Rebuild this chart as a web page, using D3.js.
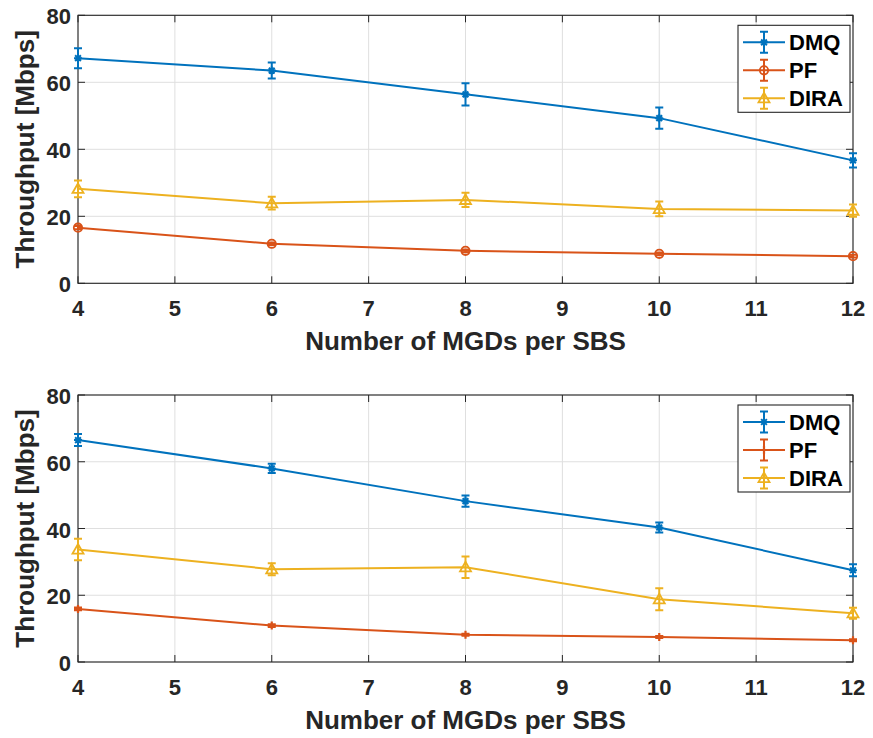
<!DOCTYPE html>
<html><head><meta charset="utf-8">
<script src="https://cdn.jsdelivr.net/npm/d3@7"></script>
<style>body{margin:0;background:#fff} svg{display:block}</style>
</head><body><svg id="chart" width="873" height="738"></svg>
<script>
const xValues = [4, 6, 8, 10, 12];
const xTicks = [4, 5, 6, 7, 8, 9, 10, 11, 12];
const yTicks = [0, 20, 40, 60, 80];
const seriesNames = ["DMQ", "PF", "DIRA"];
const seriesColors = ["#0072BD", "#D95319", "#EDB120"];

const top_DMQ = [67.2, 63.5, 56.4, 49.3, 36.7];
const top_DMQ_err = [3.0, 2.4, 3.3, 3.2, 2.1];
const top_PF = [16.6, 11.8, 9.7, 8.8, 8.1];
const top_PF_err = [0.5, 0.4, 0.4, 0.4, 0.4];
const top_DIRA = [28.2, 23.9, 24.9, 22.2, 21.7];
const top_DIRA_err = [2.5, 1.9, 2.1, 2.2, 1.85];

const bot_DMQ = [66.5, 58.0, 48.2, 40.3, 27.5];
const bot_DMQ_err = [1.8, 1.4, 1.7, 1.5, 1.8];
const bot_PF = [15.9, 10.9, 8.2, 7.5, 6.5];
const bot_PF_err = [0.4, 0.4, 0.3, 0.3, 0.3];
const bot_DIRA = [33.7, 27.8, 28.4, 18.8, 14.6];
const bot_DIRA_err = [3.2, 1.8, 3.2, 3.3, 1.65];

const xLabel = "Number of MGDs per SBS";
const yLabel = "Throughput [Mbps]";

const FONT = "'Liberation Sans', Arial, Helvetica, sans-serif";
const svg = d3.select("#chart");

function marker(g, type, cx, cy, color) {
  if (type === "star") {
    const r = 4;
    const d = r * 0.72;
    g.append("path")
      .attr("d", `M${cx - r},${cy}L${cx + r},${cy}M${cx},${cy - r}L${cx},${cy + r}M${cx - d},${cy - d}L${cx + d},${cy + d}M${cx - d},${cy + d}L${cx + d},${cy - d}`)
      .attr("stroke", color).attr("stroke-width", 2).attr("fill", "none");
  } else if (type === "circle") {
    g.append("circle").attr("cx", cx).attr("cy", cy).attr("r", 4.2)
      .attr("stroke", color).attr("stroke-width", 1.8).attr("fill", "none");
  } else if (type === "triangle") {
    const s = 5.5;
    g.append("path")
      .attr("d", `M${cx},${cy - s}L${cx + s},${cy + s * 0.75}L${cx - s},${cy + s * 0.75}Z`)
      .attr("stroke", color).attr("stroke-width", 1.8).attr("fill", "none");
  } else if (type === "plus") {
    const r = 4;
    g.append("path")
      .attr("d", `M${cx - r},${cy}L${cx + r},${cy}M${cx},${cy - r}L${cx},${cy + r}`)
      .attr("stroke", color).attr("stroke-width", 2.2).attr("fill", "none");
  }
}

function panel(top, bottom, series, markers) {
  const x = d3.scaleLinear().domain([4, 12]).range([78, 853]);
  const y = d3.scaleLinear().domain([0, 80]).range([bottom, top]);
  const g = svg.append("g");

  g.selectAll(".gx").data(xTicks).enter().append("line")
    .attr("x1", d => x(d)).attr("x2", d => x(d)).attr("y1", top).attr("y2", bottom)
    .attr("stroke", "#dfdfdf").attr("stroke-width", 1);
  g.selectAll(".gy").data(yTicks).enter().append("line")
    .attr("x1", 78).attr("x2", 853).attr("y1", d => y(d)).attr("y2", d => y(d))
    .attr("stroke", "#dfdfdf").attr("stroke-width", 1);

  g.append("rect").attr("x", 78).attr("y", top).attr("width", 775).attr("height", bottom - top)
    .attr("fill", "none").attr("stroke", "#262626").attr("stroke-width", 1.1);

  const tl = 7;
  xTicks.forEach(t => {
    g.append("line").attr("x1", x(t)).attr("x2", x(t)).attr("y1", bottom).attr("y2", bottom - tl).attr("stroke", "#262626");
    g.append("line").attr("x1", x(t)).attr("x2", x(t)).attr("y1", top).attr("y2", top + tl).attr("stroke", "#262626");
  });
  yTicks.forEach(t => {
    g.append("line").attr("x1", 78).attr("x2", 78 + tl).attr("y1", y(t)).attr("y2", y(t)).attr("stroke", "#262626");
    g.append("line").attr("x1", 853).attr("x2", 853 - tl).attr("y1", y(t)).attr("y2", y(t)).attr("stroke", "#262626");
  });

  g.selectAll(".xl").data(xTicks).enter().append("text")
    .attr("x", d => x(d)).attr("y", bottom + 33).attr("text-anchor", "middle")
    .attr("font-family", FONT).attr("font-weight", "bold").attr("font-size", 22).attr("fill", "#262626")
    .text(d => d);
  g.selectAll(".yl").data(yTicks).enter().append("text")
    .attr("x", 71).attr("y", d => y(d) + 9).attr("text-anchor", "end")
    .attr("font-family", FONT).attr("font-weight", "bold").attr("font-size", 22).attr("fill", "#262626")
    .text(d => d);

  g.append("text").attr("x", (78 + 853) / 2).attr("y", bottom + 67).attr("text-anchor", "middle")
    .attr("font-family", FONT).attr("font-weight", "bold").attr("font-size", 26).attr("fill", "#262626")
    .text(xLabel);
  g.append("text").attr("transform", `translate(34,${(top + bottom) / 2}) rotate(-90)`)
    .attr("text-anchor", "middle")
    .attr("font-family", FONT).attr("font-weight", "bold").attr("font-size", 26).attr("fill", "#262626")
    .text(yLabel);

  const line = d3.line().x(d => x(d.x)).y(d => y(d.v));
  series.forEach((s, i) => {
    const color = seriesColors[i];
    const pts = xValues.map((xv, j) => ({ x: xv, v: s.vals[j], e: s.err[j] }));
    g.append("path").datum(pts).attr("d", line).attr("fill", "none")
      .attr("stroke", color).attr("stroke-width", 2);
    pts.forEach(p => {
      const cx = x(p.x), y1 = y(p.v + p.e), y2 = y(p.v - p.e);
      g.append("path")
        .attr("d", `M${cx},${y1}L${cx},${y2}M${cx - 4},${y1}L${cx + 4},${y1}M${cx - 4},${y2}L${cx + 4},${y2}`)
        .attr("stroke", color).attr("stroke-width", 2).attr("fill", "none");
      marker(g, markers[i], cx, y(p.v), color);
    });
  });

  const lx = 738, ly = top + 10, lw = 112, lh = 87;
  g.append("rect").attr("x", lx).attr("y", ly).attr("width", lw).attr("height", lh)
    .attr("fill", "#fff").attr("stroke", "#262626").attr("stroke-width", 1.1);
  seriesNames.forEach((name, i) => {
    const cy = ly + 17 + i * 28;
    const color = seriesColors[i];
    g.append("line").attr("x1", lx + 5).attr("x2", lx + 47).attr("y1", cy).attr("y2", cy)
      .attr("stroke", color).attr("stroke-width", 2);
    const mx = lx + 26;
    g.append("path")
      .attr("d", `M${mx},${cy - 10.5}L${mx},${cy + 10.5}M${mx - 4},${cy - 10.5}L${mx + 4},${cy - 10.5}M${mx - 4},${cy + 10.5}L${mx + 4},${cy + 10.5}`)
      .attr("stroke", color).attr("stroke-width", 2).attr("fill", "none");
    marker(g, markers[i], mx, cy, color);
    g.append("text").attr("x", lx + 51).attr("y", cy + 7.5)
      .attr("font-family", FONT).attr("font-weight", "bold").attr("font-size", 22).attr("fill", "#000")
      .text(name);
  });
}

panel(15.3, 283.3, [
  { vals: top_DMQ, err: top_DMQ_err },
  { vals: top_PF, err: top_PF_err },
  { vals: top_DIRA, err: top_DIRA_err }
], ["star", "circle", "triangle"]);

panel(395, 662, [
  { vals: bot_DMQ, err: bot_DMQ_err },
  { vals: bot_PF, err: bot_PF_err },
  { vals: bot_DIRA, err: bot_DIRA_err }
], ["star", "plus", "triangle"]);
</script>
</body></html>
